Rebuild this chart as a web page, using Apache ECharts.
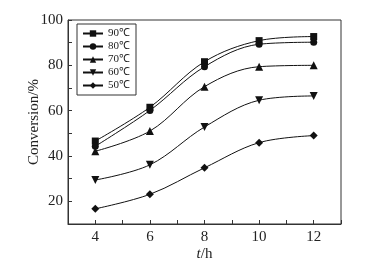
<!DOCTYPE html>
<html>
<head>
<meta charset="utf-8">
<script src="https://cdn.jsdelivr.net/npm/echarts@6/dist/echarts.min.js"></script>
<style>
html, body { margin: 0; padding: 0; background: #fff; }
#chart { width: 368px; height: 271px; }
</style>
</head>
<body>
<div id="chart"></div>
<script>
// 转化率随时间变化
var hours = [4, 6, 8, 10, 12];
var names = ['90℃', '80℃', '70℃', '60℃', '50℃'];
var conv90 = [46.6, 61.5, 81.6, 90.9, 92.7];
var conv80 = [44.3, 60.1, 79.4, 89.3, 90.2];
var conv70 = [42.1, 51.0, 70.6, 79.4, 80.0];
var conv60 = [29.4, 36.1, 52.8, 64.6, 66.5];
var conv50 = [16.7, 23.1, 34.8, 45.9, 49.0];
var symbols = ['rect', 'circle', 'triangle', 'path://M0,0 L10,0 L5,10 Z', 'diamond'];
var sizes = [7, 7, 8, 8, 8];

var allData = [conv90, conv80, conv70, conv60, conv50];
var font = 'Liberation Serif';

var chart = echarts.init(document.getElementById('chart'));

var seriesList = [];
for (var i = 0; i < names.length; i++) {
    seriesList.push({
        name: names[i],
        type: 'line',
        smooth: 0.35,
        symbol: symbols[i],
        symbolSize: sizes[i],
        data: hours.map(function (h, j) { return [h, allData[i][j]]; }),
        lineStyle: { color: '#111', width: 1 },
        itemStyle: { color: '#111' }
    });
}

var option = {
    animation: false,
    grid: {
        left: 68, right: 27, top: 20, bottom: 47,
        show: true, borderColor: '#333', borderWidth: 1
    },
    legend: {
        orient: 'vertical',
        left: 77, top: 24,
        padding: [4, 6, 4, 5],
        itemWidth: 20, itemHeight: 8, itemGap: 2,
        borderColor: '#333', borderWidth: 1,
        textStyle: { fontFamily: font, fontSize: 11, color: '#222' },
        data: names
    },
    xAxis: {
        type: 'value',
        min: 3, max: 13, interval: 1,
        name: '{i|t}/h',
        nameLocation: 'middle',
        nameMoveOverlap: false,
        nameGap: 23,
        nameTextStyle: {
            fontFamily: font, fontSize: 15, color: '#222',
            rich: { i: { fontStyle: 'italic', fontFamily: font, fontSize: 15, color: '#222' } }
        },
        axisLine: { lineStyle: { color: '#333' } },
        axisTick: { inside: true, length: 4, lineStyle: { color: '#333' } },
        axisLabel: {
            fontFamily: font, fontSize: 15, color: '#222', margin: 6,
            formatter: function (v) { return (v % 2 === 0) ? String(v) : ''; }
        },
        splitLine: { show: false }
    },
    yAxis: {
        type: 'value',
        min: 10, max: 100, interval: 10,
        name: 'Conversion/%',
        nameLocation: 'middle',
        nameMoveOverlap: false,
        nameGap: 26,
        nameTextStyle: { fontFamily: font, fontSize: 15, color: '#222' },
        axisLine: { show: true, lineStyle: { color: '#333' } },
        axisTick: { inside: true, length: 4, lineStyle: { color: '#333' } },
        axisLabel: {
            fontFamily: font, fontSize: 15, color: '#222', margin: 5,
            formatter: function (v) { return (v % 20 === 0) ? String(v) : ''; }
        },
        splitLine: { show: false }
    },
    series: seriesList
};

chart.setOption(option);
</script>
</body>
</html>
